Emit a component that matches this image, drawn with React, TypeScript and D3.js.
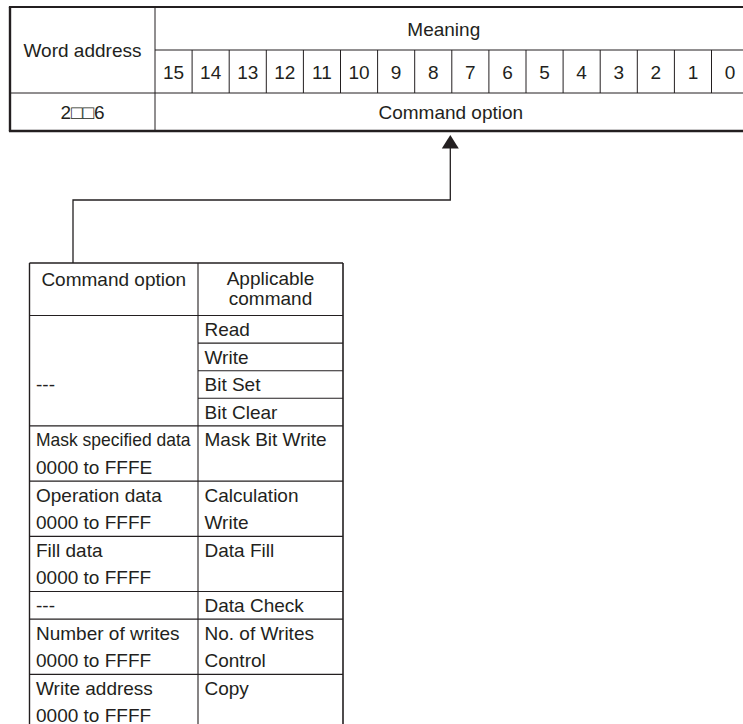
import React, { useRef, useEffect } from 'react'
import * as d3 from 'd3'

// register word layout
const bitLabels = ['15', '14', '13', '12', '11', '10', '9', '8', '7', '6', '5', '4', '3', '2', '1', '0']
const headerLabels = ['Word address', 'Meaning']
const wordAddress = '2\u25A1\u25A16'
const wordMeaning = 'Command option'

// command option table
const optionHeader = ['Command option']
const commandHeader = ['Applicable', 'command']
const optionLabels = [
  ['---'],
  ['Mask specified data', '0000 to FFFE'],
  ['Operation data', '0000 to FFFF'],
  ['Fill data', '0000 to FFFF'],
  ['---'],
  ['Number of writes', '0000 to FFFF'],
  ['Write address', '0000 to FFFF'],
]
const commandLabels = [
  ['Read', 'Write', 'Bit Set', 'Bit Clear'],
  ['Mask Bit Write'],
  ['Calculation', 'Write'],
  ['Data Fill'],
  ['Data Check'],
  ['No. of Writes', 'Control'],
  ['Copy'],
]
// true when each command sits in its own ruled cell
const commandSplit = [true, false, false, false, false, false, false]

const W = 743
const H = 724
const INK = '#231f20'
const FONT = '"Liberation Sans", Arial, Helvetica, sans-serif'

const Diagram: React.FC = () => {
  const ref = useRef<SVGSVGElement>(null)

  useEffect(() => {
    const svg = d3.select(ref.current)
    svg.selectAll('*').remove()
    const g = svg.append('g').style('font-family', FONT).style('font-size', '19px').attr('fill', INK)

    // ---------- top register table ----------
    const tx0 = 10
    const tCol = 155
    const rows = [7, 50, 93, 131]
    const bitW = 37.1
    const xBit = d3
      .scaleBand<string>()
      .domain(bitLabels)
      .range([tCol, tCol + bitW * bitLabels.length])

    const line = (x1: number, y1: number, x2: number, y2: number, w = 1) =>
      g
        .append('line')
        .attr('x1', x1)
        .attr('y1', y1)
        .attr('x2', x2)
        .attr('y2', y2)
        .attr('stroke', INK)
        .attr('stroke-width', w)

    line(tCol, rows[1], W + 10, rows[1], 1)
    line(tx0, rows[2], W + 10, rows[2], 1)
    line(tCol, rows[0], tCol, rows[3], 1)
    bitLabels.slice(1).forEach(b => line(xBit(b)!, rows[1], xBit(b)!, rows[2], 1))
    line(xBit('0')! + bitW, rows[1], xBit('0')! + bitW, rows[3], 2.2)
    // thick frame
    line(tx0 - 1.1, rows[0], W + 10, rows[0], 2.2)
    line(tx0 - 1.1, rows[3], W + 10, rows[3], 2.4)
    line(tx0, rows[0], tx0, rows[3], 2.4)

    const centerX = (tCol + xBit('0')! + bitW) / 2
    g.append('text').attr('x', (tx0 + tCol) / 2).attr('y', 57).attr('text-anchor', 'middle').text(headerLabels[0])
    g.append('text').attr('x', centerX - 8).attr('y', 35.5).attr('text-anchor', 'middle').text(headerLabels[1])
    g.selectAll('text.bit')
      .data(bitLabels)
      .join('text')
      .attr('class', 'bit')
      .attr('x', d => xBit(d)! + xBit.bandwidth() / 2)
      .attr('y', 78.5)
      .attr('text-anchor', 'middle')
      .text(d => d)
    g.append('text').attr('x', (tx0 + tCol) / 2).attr('y', 118.5).attr('text-anchor', 'middle').text(wordAddress)
    g.append('text').attr('x', centerX - 1).attr('y', 118.5).attr('text-anchor', 'middle').text(wordMeaning)

    // ---------- lower option table ----------
    const lx0 = 29.5
    const lx1 = 198
    const lx2 = 343
    const lTop = 263
    const hBottom = 315.5
    const subRows = optionLabels.map((o, i) => Math.max(o.length, commandLabels[i].length))
    const total = d3.sum(subRows)
    const y = d3
      .scaleLinear()
      .domain([0, total])
      .range([hBottom, hBottom + 27.6 * total])
    const starts = d3.cumsum([0, ...subRows])

    // connector with arrow
    const arrowX = xBit('8')! + bitW - 1.5
    const elbowY = 200
    const dropX = 73
    g.append('path')
      .attr('d', `M${dropX},${lTop} V${elbowY} H${arrowX} V146`)
      .attr('fill', 'none')
      .attr('stroke', INK)
      .attr('stroke-width', 1.3)
    g.append('path')
      .attr('d', `M${arrowX},135 L${arrowX + 8.5},148.5 L${arrowX - 8.5},148.5 Z`)
      .attr('fill', INK)

    line(lx0, lTop, lx2, lTop, 1.3)
    line(lx0, hBottom, lx2, hBottom, 1.2)
    line(lx0, lTop, lx0, y(total) + 10, 1.4)
    line(lx1, lTop, lx1, y(total) + 10, 1.1)
    line(lx2, lTop, lx2, y(total) + 10, 1.6)

    g.append('text').attr('x', (lx0 + lx1) / 2).attr('y', 286).attr('text-anchor', 'middle').text(optionHeader[0])
    commandHeader.forEach((t, i) =>
      g
        .append('text')
        .attr('x', (lx1 + lx2) / 2)
        .attr('y', 285 + i * 20)
        .attr('text-anchor', 'middle')
        .text(t),
    )

    const fitText = (sel: d3.Selection<SVGTextElement, unknown, null, undefined>, maxW: number) => {
      const node = sel.node()
      if (node && node.getComputedTextLength() > maxW) {
        sel.attr('textLength', maxW).attr('lengthAdjust', 'spacingAndGlyphs')
      }
    }

    optionLabels.forEach((opts, i) => {
      const s = starts[i]
      const n = subRows[i]
      if (i < optionLabels.length - 1) line(lx0, y(s + n), lx2, y(s + n), 1.2)
      const off = Math.round((n - opts.length) / 2)
      opts.forEach((t, j) => {
        const txt = g
          .append('text')
          .attr('x', lx0 + 6.5)
          .attr('y', y(s + off + j) + 20.5)
          .text(t)
        fitText(txt, lx1 - lx0 - 14)
      })
      commandLabels[i].forEach((t, j) => {
        const txt = g
          .append('text')
          .attr('x', lx1 + 6.5)
          .attr('y', y(s + j) + 20.5)
          .text(t)
        fitText(txt, lx2 - lx1 - 12)
        if (commandSplit[i] && j > 0) line(lx1, y(s + j), lx2, y(s + j), 1.1)
      })
    })
  }, [])

  return <svg ref={ref} width={W} height={H} style={{ display: 'block', background: '#fff' }} />
}

const App: React.FC = () => (
  <div style={{ position: 'absolute', left: 0, top: 0, width: W, height: H, overflow: 'hidden', background: '#fff' }}>
    <Diagram />
  </div>
)

export default App
